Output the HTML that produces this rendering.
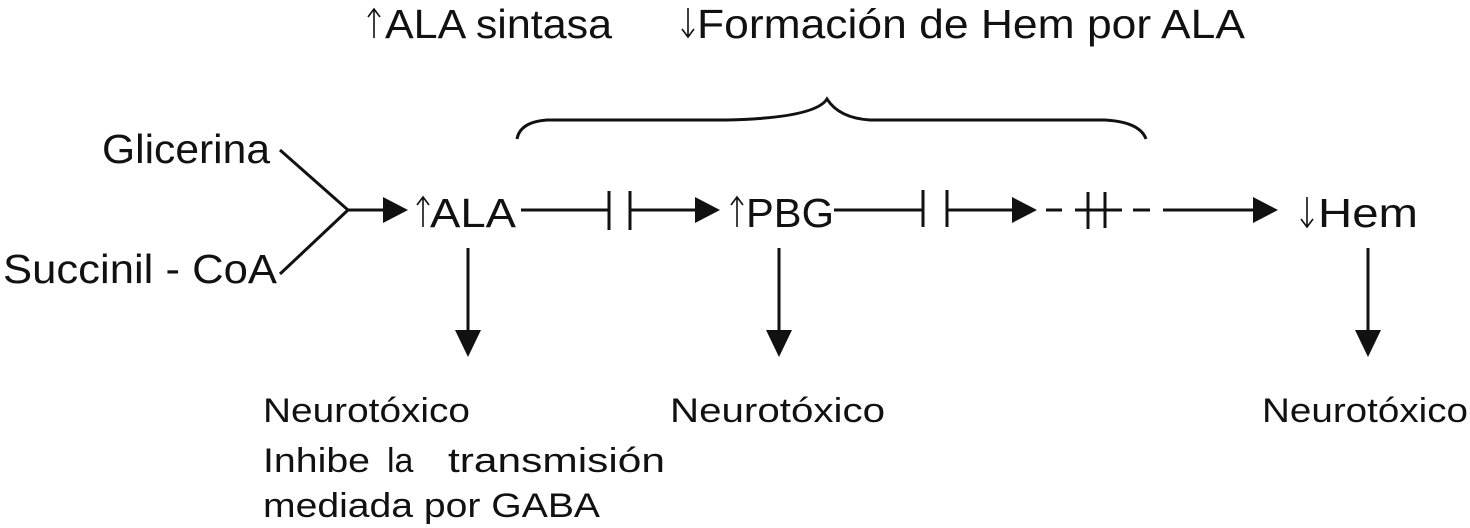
<!DOCTYPE html>
<html><head><meta charset="utf-8"><style>html,body{margin:0;padding:0;background:#fff}svg{display:block}</style></head>
<body>
<svg width="1470" height="528" viewBox="0 0 1470 528" xmlns="http://www.w3.org/2000/svg" font-family="Liberation Sans, Arial, sans-serif" fill="#111">
<g font-size="41">
<text x="385" y="38" textLength="227" lengthAdjust="spacingAndGlyphs">ALA sintasa</text>
<text x="697" y="38" textLength="548" lengthAdjust="spacingAndGlyphs">Formación de Hem por ALA</text>
<text x="102" y="163" textLength="168" lengthAdjust="spacingAndGlyphs">Glicerina</text>
<text x="3" y="283" textLength="274" lengthAdjust="spacingAndGlyphs">Succinil - CoA</text>
<text x="430" y="227" textLength="86" lengthAdjust="spacingAndGlyphs">ALA</text>
<text x="746" y="227" textLength="88" lengthAdjust="spacingAndGlyphs">PBG</text>
<text x="1318" y="227" textLength="100" lengthAdjust="spacingAndGlyphs">Hem</text>
</g>
<g font-size="34">
<text x="263" y="422" textLength="207" lengthAdjust="spacingAndGlyphs">Neurotóxico</text>
<text x="263" y="472" textLength="107" lengthAdjust="spacingAndGlyphs">Inhibe</text>
<text x="387" y="472">la</text>
<text x="448" y="472" textLength="217" lengthAdjust="spacingAndGlyphs">transmisión</text>
<text x="263" y="517" textLength="337" lengthAdjust="spacingAndGlyphs">mediada por GABA</text>
<text x="670" y="422" textLength="215" lengthAdjust="spacingAndGlyphs">Neurotóxico</text>
<text x="1262" y="422" textLength="206" lengthAdjust="spacingAndGlyphs">Neurotóxico</text>
</g>
<g stroke="#111" stroke-width="1.6" fill="none">
<path d="M374,38 L374,9 M368,17 L374,9 L380,17"/>
<path d="M688,8 L688,37 M682,29 L688,37 L694,29"/>
<path d="M423,227 L423,197 M417,205 L423,197 L429,205"/>
<path d="M737,227 L737,197 M731,205 L737,197 L743,205"/>
<path d="M1307,197 L1307,227 M1301,219 L1307,227 L1313,219"/>
</g>
<g stroke="#111" stroke-width="3" fill="none">
<path d="M517,139 Q520,122 547,120 L727,120 Q815,118 827,99 Q839,118 870,120 L1105,120 Q1140,122 1146,139"/>
<path d="M280,150 L348,210 L280,274 M348,210 L385,210"/>
<path d="M521,210 L609,210 M609,191 L609,230 M630,191 L630,230 M630,210 L697,210"/>
<path d="M834,210 L923,210 M923,190 L923,227 M947,190 L947,227 M947,210 L1014,210"/>
<path d="M1046,210 L1062,210 M1075,210 L1122,210 M1088,192 L1088,229 M1105,192 L1105,228 M1133,210 L1150,210 M1163,210 L1255,210"/>
<path d="M468,248 L468,332 M779,248 L779,332 M1368,248 L1368,332"/>
</g>
<g fill="#111">
<polygon points="383,197 408,210 383,223"/>
<polygon points="695,197 720,210 695,223"/>
<polygon points="1012,197 1037,210 1012,223"/>
<polygon points="1253,197 1278,210 1253,223"/>
<polygon points="455,330 481,330 468,357"/>
<polygon points="766,330 792,330 779,357"/>
<polygon points="1355,330 1381,330 1368,357"/>
</g>
</svg>
</body></html>
